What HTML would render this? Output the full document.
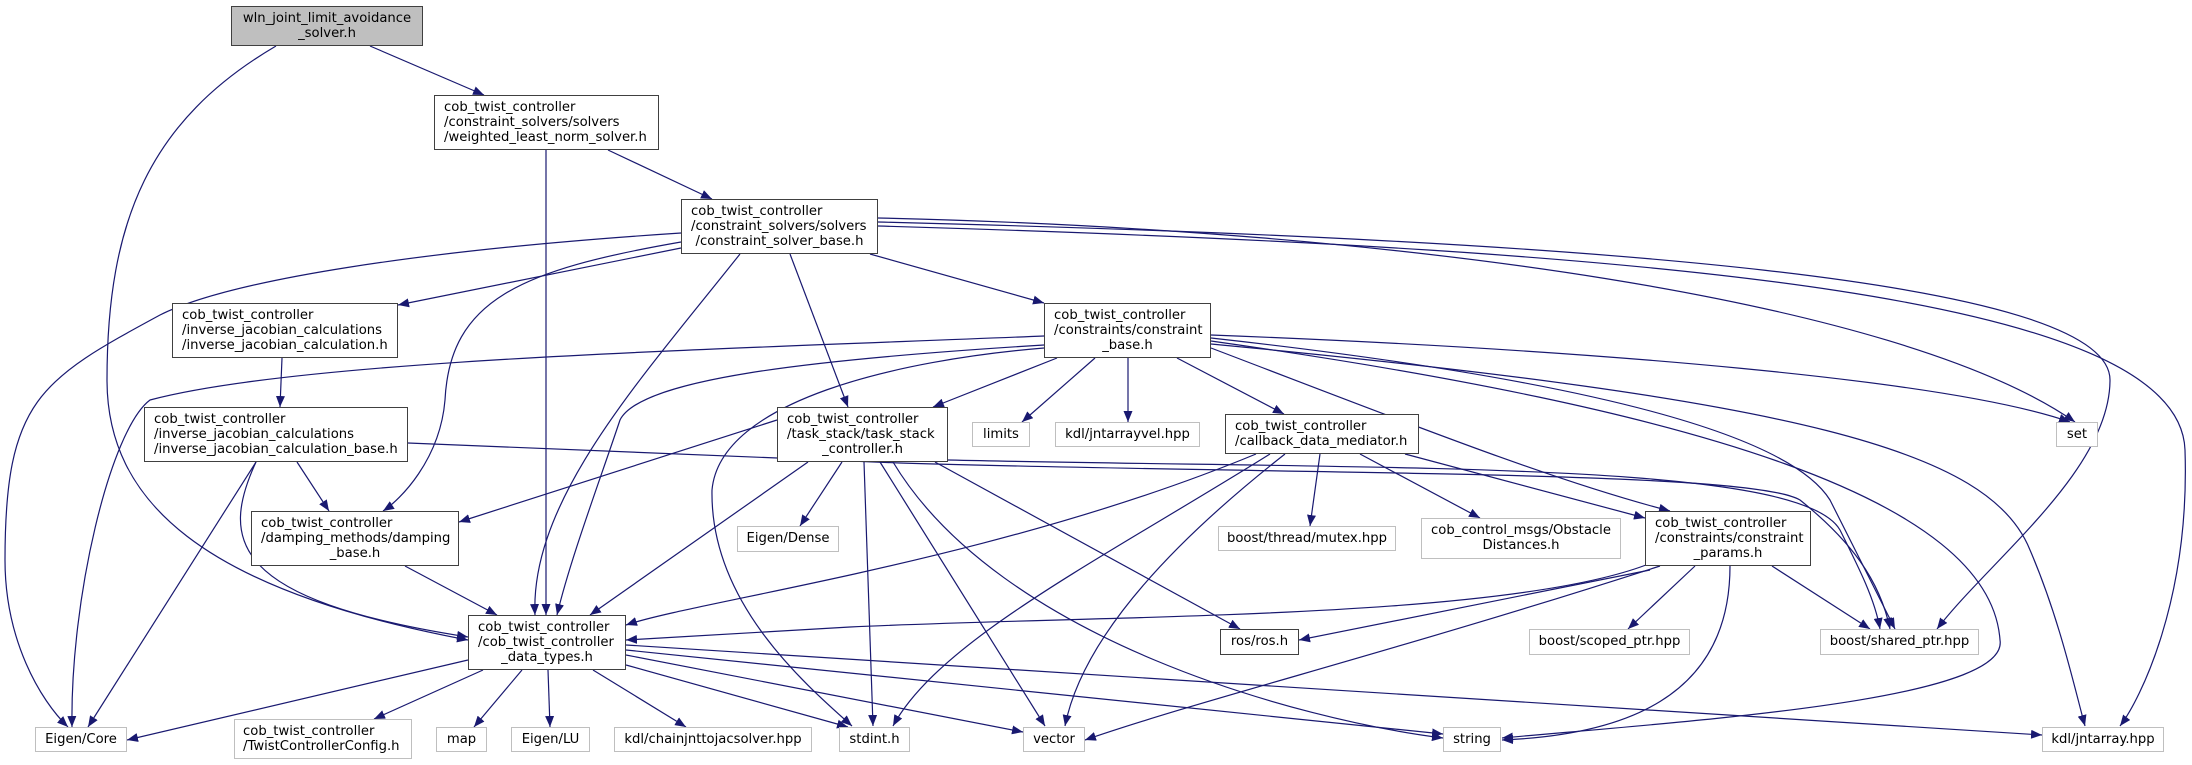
<!DOCTYPE html>
<html><head><meta charset="utf-8"><style>
body{margin:0;background:#fff;width:2192px;height:765px;overflow:hidden;position:relative;font-family:"DejaVu Sans","Liberation Sans",sans-serif;}
svg{position:absolute;left:0;top:0}
.n{position:absolute;box-sizing:border-box;border:1.4px solid #404040;background:#fff;font-size:13.2px;line-height:15px;color:#000;padding:4px 9px 0 9px;white-space:nowrap}
.e{border-color:#bfbfbf;text-align:center;padding:4px 4px 0 4px}
.c{display:block;text-align:center}
.l{display:block;text-align:left}
</style></head><body>
<svg width="2192" height="765" viewBox="0 0 2192 765">
<defs><marker id="a" markerUnits="userSpaceOnUse" markerWidth="12" markerHeight="9" refX="11" refY="4.5" orient="auto"><path d="M0,0 L11,4.5 L0,9 z" fill="#191970"/></marker></defs>
<g fill="none" stroke="#191970" stroke-width="1.2" marker-end="url(#a)">
<path d="M370,46 L484,95"/>
<path d="M276,46 C150,120 107,220 107,380 C107,500 200,590 468,640"/>
<path d="M546,150 L546,615"/>
<path d="M608,150 L712,199"/>
<path d="M681,248 L398,305"/>
<path d="M681,233 C420,250 230,280 160,315 C40,380 5,400 5,560 C5,640 40,700 68,727"/>
<path d="M681,242 C520,270 450,300 445,400 C440,460 400,500 383,511"/>
<path d="M740,254 C640,380 530,500 535,615"/>
<path d="M790,254 L848,407"/>
<path d="M870,254 L1044,303"/>
<path d="M878,218 C1400,230 1900,300 2075,422"/>
<path d="M878,222 C1600,240 2110,280 2110,380 C2110,470 1990,560 1937,629"/>
<path d="M878,226 C1700,250 2180,300 2185,450 C2190,600 2140,700 2120,726"/>
<path d="M282,358 L280,407"/>
<path d="M297,462 L329,511"/>
<path d="M256,462 C220,540 230,600 468,637"/>
<path d="M256,462 L88,727"/>
<path d="M408,443 L900,463 C1300,475 1750,470 1800,500 C1850,540 1880,580 1890,629"/>
<path d="M405,566 L497,615"/>
<path d="M1057,358 L933,407"/>
<path d="M1095,358 L1022,422"/>
<path d="M1128,358 L1128,422"/>
<path d="M1177,358 L1284,414"/>
<path d="M1211,348 C1400,420 1550,480 1670,511"/>
<path d="M1044,336 C700,350 300,360 150,400 C110,430 70,600 72,727"/>
<path d="M1044,345 C800,360 640,380 620,420 C600,480 570,560 557,615"/>
<path d="M1044,348 C900,360 720,400 712,490 C710,600 800,680 852,726"/>
<path d="M1211,335 C1600,350 1950,380 2070,422"/>
<path d="M1211,338 C1500,370 1780,420 1830,500 C1860,560 1880,600 1895,629"/>
<path d="M1211,341 C1700,410 1990,500 2000,640 C2010,700 1700,720 1502,738"/>
<path d="M1211,344 C1800,400 1990,450 2030,550 C2060,620 2075,690 2085,726"/>
<path d="M777,420 L459,522"/>
<path d="M808,462 L590,615"/>
<path d="M842,462 L800,526"/>
<path d="M864,462 L873,726"/>
<path d="M880,462 L1045,726"/>
<path d="M893,462 C1000,640 1300,720 1443,738"/>
<path d="M935,462 L1240,629"/>
<path d="M948,460 C1400,470 1800,460 1840,530 C1860,570 1875,600 1880,629"/>
<path d="M1256,454 C1000,560 700,600 626,625"/>
<path d="M1270,454 C1100,560 940,640 893,726"/>
<path d="M1285,454 C1150,560 1080,650 1065,726"/>
<path d="M1320,454 L1310,526"/>
<path d="M1360,454 L1480,518"/>
<path d="M1405,454 L1645,518"/>
<path d="M1646,565 C1500,620 1100,615 850,627 L626,640"/>
<path d="M1650,570 L1299,640"/>
<path d="M1660,566 C1400,650 1200,700 1085,740"/>
<path d="M1730,566 C1730,700 1620,735 1502,740"/>
<path d="M1695,566 L1628,629"/>
<path d="M1772,566 L1870,629"/>
<path d="M468,660 L127,740"/>
<path d="M483,670 L374,719"/>
<path d="M522,670 L474,727"/>
<path d="M548,670 L550,727"/>
<path d="M593,670 L686,727"/>
<path d="M626,665 L848,727"/>
<path d="M626,655 L1023,732"/>
<path d="M626,650 L1443,734"/>
<path d="M626,645 L2042,735"/>
</g></svg>

<div class="n" style="left:231px;top:6px;width:192px;height:40px;background:#bfbfbf;text-align:center">wln_joint_limit_avoidance<br>_solver.h</div>
<div class="n" style="left:434px;top:95px;width:225px;height:55px"><span class="l">cob_twist_controller</span><span class="l">/constraint_solvers/solvers</span><span class="l">/weighted_least_norm_solver.h</span></div>
<div class="n" style="left:681px;top:199px;width:197px;height:55px"><span class="l">cob_twist_controller</span><span class="l">/constraint_solvers/solvers</span><span class="c">/constraint_solver_base.h</span></div>
<div class="n" style="left:172px;top:303px;width:226px;height:55px"><span class="l">cob_twist_controller</span><span class="l">/inverse_jacobian_calculations</span><span class="l">/inverse_jacobian_calculation.h</span></div>
<div class="n" style="left:1044px;top:303px;width:167px;height:55px"><span class="l">cob_twist_controller</span><span class="l">/constraints/constraint</span><span class="c">_base.h</span></div>
<div class="n" style="left:144px;top:407px;width:264px;height:55px"><span class="l">cob_twist_controller</span><span class="l">/inverse_jacobian_calculations</span><span class="l">/inverse_jacobian_calculation_base.h</span></div>
<div class="n" style="left:777px;top:407px;width:171px;height:55px"><span class="l">cob_twist_controller</span><span class="l">/task_stack/task_stack</span><span class="c">_controller.h</span></div>
<div class="n" style="left:1225px;top:414px;width:194px;height:40px"><span class="l">cob_twist_controller</span><span class="l">/callback_data_mediator.h</span></div>
<div class="n" style="left:251px;top:511px;width:208px;height:55px"><span class="l">cob_twist_controller</span><span class="l">/damping_methods/damping</span><span class="c">_base.h</span></div>
<div class="n" style="left:468px;top:615px;width:158px;height:55px"><span class="l">cob_twist_controller</span><span class="l">/cob_twist_controller</span><span class="c">_data_types.h</span></div>
<div class="n" style="left:1645px;top:511px;width:166px;height:55px"><span class="l">cob_twist_controller</span><span class="l">/constraints/constraint</span><span class="c">_params.h</span></div>
<div class="n" style="left:1220px;top:629px;width:79px;height:26px;text-align:center;padding:4px 2px 0">ros/ros.h</div>

<div class="n e" style="left:972px;top:422px;width:58px;height:25px">limits</div>
<div class="n e" style="left:1055px;top:422px;width:145px;height:25px">kdl/jntarrayvel.hpp</div>
<div class="n e" style="left:2056px;top:422px;width:42px;height:25px">set</div>
<div class="n e" style="left:737px;top:526px;width:102px;height:26px">Eigen/Dense</div>
<div class="n e" style="left:1218px;top:526px;width:178px;height:25px">boost/thread/mutex.hpp</div>
<div class="n e" style="left:1421px;top:518px;width:200px;height:41px">cob_control_msgs/Obstacle<br>Distances.h</div>
<div class="n e" style="left:1529px;top:629px;width:161px;height:26px">boost/scoped_ptr.hpp</div>
<div class="n e" style="left:1820px;top:629px;width:159px;height:26px">boost/shared_ptr.hpp</div>
<div class="n e" style="left:35px;top:727px;width:92px;height:25px">Eigen/Core</div>
<div class="n e" style="left:234px;top:719px;width:178px;height:40px;text-align:left;padding-left:8px">cob_twist_controller<br>/TwistControllerConfig.h</div>
<div class="n e" style="left:436px;top:727px;width:51px;height:25px">map</div>
<div class="n e" style="left:511px;top:727px;width:79px;height:25px">Eigen/LU</div>
<div class="n e" style="left:614px;top:727px;width:198px;height:25px">kdl/chainjnttojacsolver.hpp</div>
<div class="n e" style="left:839px;top:727px;width:71px;height:25px">stdint.h</div>
<div class="n e" style="left:1023px;top:727px;width:62px;height:25px">vector</div>
<div class="n e" style="left:1443px;top:727px;width:58px;height:25px">string</div>
<div class="n e" style="left:2042px;top:727px;width:122px;height:25px">kdl/jntarray.hpp</div>
</body></html>
